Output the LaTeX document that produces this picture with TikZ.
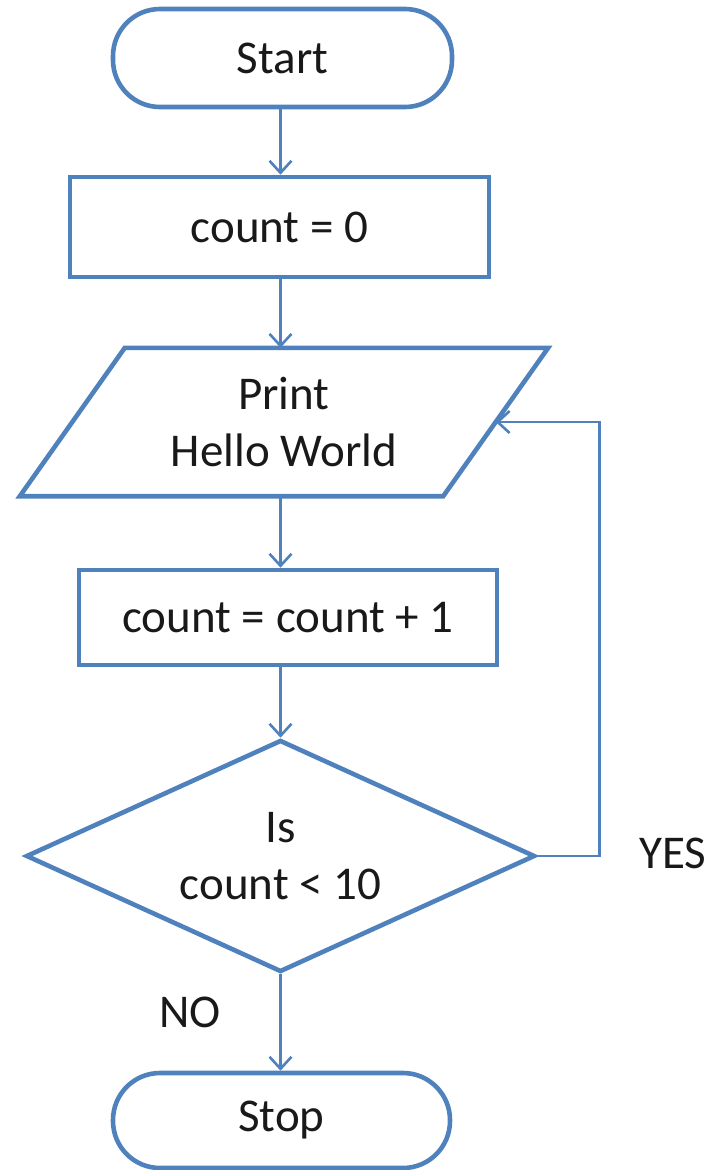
\documentclass[tikz,border=0pt]{standalone}
\usepackage{fontspec}
\setmainfont{Carlito}
\usetikzlibrary{shapes.geometric,arrows.meta}
\definecolor{fcblue}{RGB}{79,129,189}
\definecolor{fctext}{RGB}{25,25,25}
\begin{document}
\begin{tikzpicture}[x=1pt,y=-1pt,
  every node/.style={font=\fontsize{47}{57}\selectfont, text=fctext, align=center, inner sep=0pt},
  shapebox/.style={draw=fcblue, line width=4.6pt},
  term/.style={shapebox, rectangle, rounded corners=47pt},
  procbox/.style={shapebox, rectangle},
  decision/.style={shapebox, diamond, aspect=2.2},
  conn/.style={draw=fcblue, line width=2.6pt, -{Straight Barb[length=12pt,width=22pt]}},
  lbl/.style={}
]
\useasboundingbox (0,0) rectangle (715,1170);

\node[term, minimum width=339pt, minimum height=98pt] (start) at (282.5,58) {Start};
\node[procbox, minimum width=419pt, minimum height=100pt] (count0) at (279.5,227) {count = 0};
\node[minimum width=423pt, minimum height=148pt] (print) at (284,422) {Print\\Hello World};
\draw[shapebox, line join=miter]
  ([xshift=52.5pt]print.north west) -- ([xshift=52.5pt]print.north east)
  -- ([xshift=-52.5pt]print.south east) -- ([xshift=-52.5pt]print.south west) -- cycle;
\node[procbox, minimum width=418pt, minimum height=95pt] (incr) at (288,617.5) {count = count + 1};
\node[decision, minimum width=509pt, minimum height=232pt] (dec) at (280.5,856) {Is\\count < 10};
\node[term, minimum width=337pt, minimum height=95pt] (stop) at (281.5,1120.5) {Stop};

\node[lbl] (yes) at (673,853) {YES};
\node[lbl] (no) at (190,1012) {NO};

\draw[conn] (start.south -| dec.north) -- (count0.north -| dec.north);
\draw[conn] (count0.south -| dec.north) -- (print.north -| dec.north);
\draw[conn] (print.south -| dec.north) -- (incr.north -| dec.north);
\draw[conn] (incr.south -| dec.north) -- (dec.north);
\draw[conn] (dec.south) -- (stop.north -| dec.south);
\draw[conn] (dec.east) -- ++(62,0) |- (print.east);
\end{tikzpicture}
\end{document}
